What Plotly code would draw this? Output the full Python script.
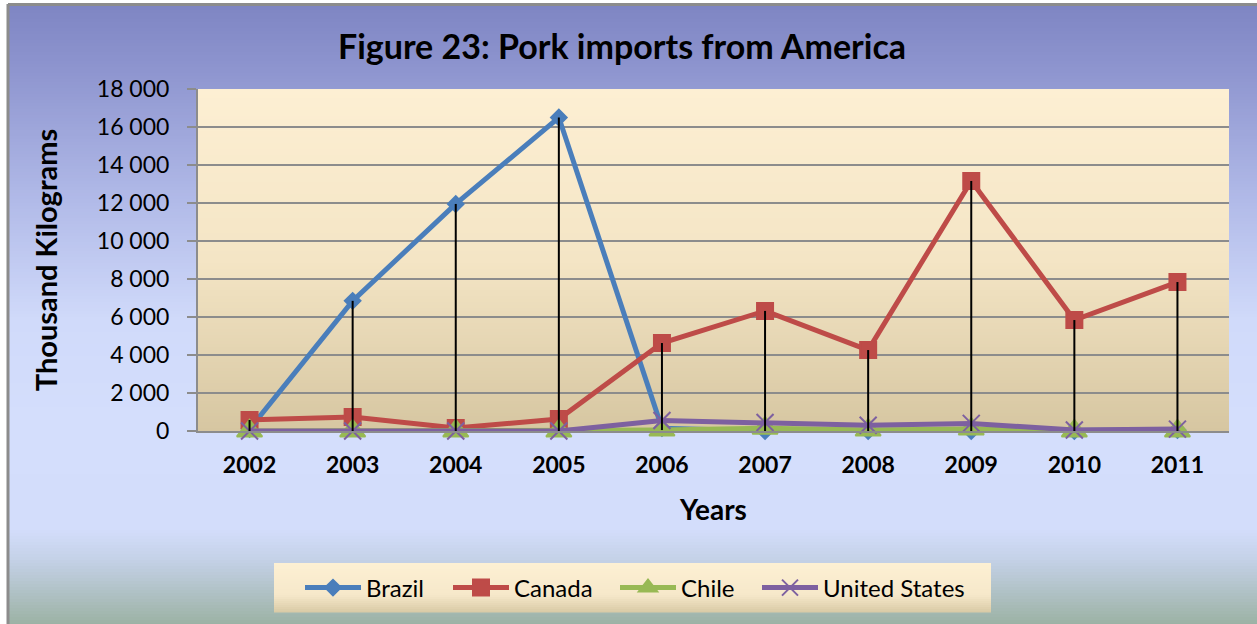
import plotly.graph_objects as go

years = ["2002", "2003", "2004", "2005", "2006", "2007", "2008", "2009", "2010", "2011"]
brazil = [100, 6850, 11950, 16500, 150, 0, 0, 0, 0, 50]
canada = [580, 740, 160, 630, 4630, 6320, 4260, 13160, 5840, 7840]
chile = [0, 0, 0, 0, 50, 150, 50, 100, 0, 0]
united_states = [0, 0, 0, 0, 550, 450, 300, 400, 50, 100]

W, H = 1257, 624
L, R, T, B = 198, 1229, 89, 431
FONT = "Lato"


def px(x):
    return (x - L) / (R - L)


def py(y):
    return (B - y) / (B - T)


def hex2rgb(h):
    h = h.lstrip("#")
    return tuple(int(h[i:i + 2], 16) for i in (0, 2, 4))


def gradient(shapes, x0, x1, stops, step=3):
    for (ya, ca), (yb, cb) in zip(stops[:-1], stops[1:]):
        a, b = hex2rgb(ca), hex2rgb(cb)
        y = ya
        while y < yb:
            y2 = min(y + step, yb)
            t = ((y + y2) / 2 - ya) / (yb - ya)
            c = tuple(round(a[k] + (b[k] - a[k]) * t) for k in range(3))
            shapes.append(dict(type="rect", xref="paper", yref="paper",
                               x0=px(x0), x1=px(x1), y0=py(y2 + 0.5), y1=py(y),
                               fillcolor="rgb(%d,%d,%d)" % c, line=dict(width=0),
                               layer="below"))
            y = y2


shapes = []
gradient(shapes, 8, W, [(4, "#7E85C3"), (70, "#8E95CF"), (200, "#B1BAE8"),
                         (320, "#D0DAFA"), (420, "#D4DEFC"), (530, "#D3DDFB"),
                         (560, "#C4D1E7"), (624, "#9CB2A4")])
gradient(shapes, L, R, [(T, "#FDEFD3"), (260, "#F4E5C5"), (B, "#D6C6A1")])
gradient(shapes, 274, 991, [(563, "#FDF0D3"), (595, "#F6E8CA"), (612, "#D9CAA6")], step=2)
# outer border
shapes.append(dict(type="line", xref="paper", yref="paper", x0=px(8), x1=px(8),
                   y0=py(4), y1=py(624), line=dict(color="#8C8C8C", width=3), layer="below"))
shapes.append(dict(type="line", xref="paper", yref="paper", x0=px(8), x1=px(W),
                   y0=py(4.5), y1=py(4.5), line=dict(color="#8C8C8C", width=3), layer="below"))

fig = go.Figure()
series = [
    ("Brazil", brazil, "#4A7EBB", "diamond", 12, 2, "legend"),
    ("Canada", canada, "#BE4B48", "square", 16, 2, "legend2"),
    ("Chile", chile, "#98B954", "triangle-up", 22, 2, "legend3"),
    ("United States", united_states, "#7D60A0", "x-thin-open", 17, 2, "legend4"),
]
for name, vals, col, sym, sz, lw, lg in series:
    fig.add_trace(go.Scatter(
        x=years, y=vals, name=name, mode="lines+markers", cliponaxis=False,
        line=dict(color=col, width=5), legend=lg,
        marker=dict(symbol=sym, size=sz, color=col,
                    line=dict(color=col, width=lw)),
    ))

# high-low lines
hx, hy = [], []
for i, yr in enumerate(years):
    vals = [brazil[i], canada[i], chile[i], united_states[i]]
    hx += [yr, yr, None]
    hy += [min(vals), max(vals), None]
fig.add_trace(go.Scatter(x=hx, y=hy, mode="lines", line=dict(color="black", width=2),
                         showlegend=False, hoverinfo="skip", cliponaxis=False))


def leg(xpix):
    return dict(orientation="h", x=px(xpix), xanchor="left", y=py(588), yanchor="middle",
                bgcolor="rgba(0,0,0,0)", font=dict(size=24, family=FONT), itemwidth=56)


fig.update_layout(
    width=W, height=H,
    margin=dict(l=L, r=W - R, t=T, b=H - B),
    paper_bgcolor="white", plot_bgcolor="rgba(0,0,0,0)",
    separators=". ",
    font=dict(family=FONT, color="black"),
    title=dict(text="<b>Figure 23: Pork imports from America</b>",
               x=px(622), xref="paper", xanchor="center",
               y=1 - 47 / H, yanchor="middle", font=dict(size=34, family=FONT)),
    xaxis=dict(range=[-0.5, 9.5], showgrid=False, showline=True, linecolor="#8C8C8C",
               linewidth=2, ticks="outside", ticklen=12, tickcolor="rgba(0,0,0,0)",
               tickfont=dict(size=23, family=FONT, color="black"),
               tickprefix="<b>", ticksuffix="</b>",
               title=dict(text="<b>Years</b>", font=dict(size=28, family=FONT), standoff=24),
               fixedrange=True),
    yaxis=dict(range=[0, 18000], dtick=2000, tickformat=",d", showgrid=True,
               gridcolor="#8C8C8C", gridwidth=2, showline=True, linecolor="#8C8C8C",
               linewidth=2, ticks="outside", ticklen=9, tickcolor="#8C8C8C", tickwidth=2,
               ticklabelstandoff=13,
               tickfont=dict(size=23, family=FONT, color="black"),
               zeroline=False,
               title=dict(text="<b>Thousand Kilograms</b>", font=dict(size=29, family=FONT),
                          standoff=31),
               fixedrange=True),
    legend=leg(300), legend2=leg(448), legend3=leg(615), legend4=leg(757),
    shapes=shapes,
    showlegend=True,
)

fig.write_html("out.html", config={"displayModeBar": False},
               post_script="document.body.style.margin='0';document.body.style.overflow='hidden';")
